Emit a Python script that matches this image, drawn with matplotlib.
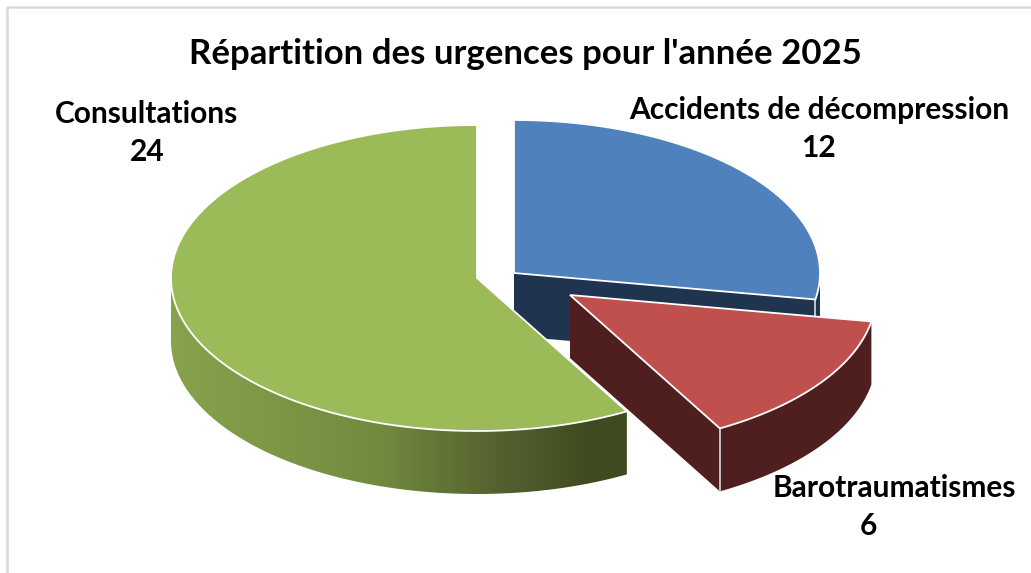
"""
Pie chart in the "3D exploded" office style, drawn with flat patches
in pixel coordinates (y axis pointing down).
"""

import numpy as np
import matplotlib
matplotlib.use("Agg")
import matplotlib.pyplot as plt
from matplotlib.colors import LinearSegmentedColormap
from matplotlib.patches import Polygon

plt.rcParams["font.family"] = ["Lato", "DejaVu Sans"]

title = "Répartition des urgences pour l'année 2025"
categories = ["Accidents de décompression", "Barotraumatismes", "Consultations"]
values = [12, 6, 24]

# ── Layout / styles ─────────────────────────────────────────────────────────
W, H = 1031, 573
RX, RY, DEPTH = 306, 153, 63
centers = [(514, 273), (570, 295), (477, 278)]
top_colors = ["#4f81bd", "#c0504d", "#9bbb59"]
side_colors = ["#1f344f", "#4f1f1f", None]
name_pos = [(819, 110), (894, 488), (147, 114)]
value_pos = [(818, 148), (868, 526), (147, 152)]
draw_order = [0, 2, 1]
green_ramp = LinearSegmentedColormap.from_list(
    "rim",
    [(0, "#87a34c"), (0.46, "#728a3f"), (0.7, "#566430"), (0.92, "#404a20"), (1, "#404a20")],
)


def view_angle(deg):
    """Slice angle as seen with the slight perspective of the 3D view."""
    return deg - 3.7 * np.sin(np.radians(deg / 2))


def arc(center, a, b, drop=0):
    """Points on the ellipse between angles a and b (clockwise from top)."""
    t = np.radians(np.linspace(a, b, 120))
    x = center[0] + RX * np.sin(t)
    y = center[1] - RY * np.cos(t) + drop
    return np.column_stack([x, y])


fig = plt.figure(figsize=(W / 100, H / 100), dpi=100)
ax = fig.add_axes([0, 0, 1, 1])
ax.axis("off")

edges = np.concatenate([[0], np.cumsum(values)]) / sum(values) * 360

for i in draw_order:
    c = centers[i]
    a, b = view_angle(edges[i]), view_angle(edges[i + 1])

    # Cut wall, only seen when it faces the viewer
    if 0 < b < 180:
        p = arc(c, b, b)[0]
        wall = [c, p, (p[0], p[1] + DEPTH), (c[0], c[1] + DEPTH)]
        ax.add_patch(Polygon(wall, fc=side_colors[i], ec="none", zorder=i * 3 + 1))

    # Outer rim: front half of the ellipse only
    lo, hi = max(a, 90), min(b, 270)
    rim = np.vstack([arc(c, lo, hi), arc(c, hi, lo, DEPTH)])
    if side_colors[i] is not None:
        ax.add_patch(Polygon(rim, fc=side_colors[i], ec="none", zorder=i * 3 + 1))
    else:
        clip = Polygon(rim, fc="none", ec="none", transform=ax.transData)
        ax.add_patch(clip)
        x0, x1 = rim[:, 0].min(), rim[:, 0].max()
        y0, y1 = rim[:, 1].min(), rim[:, 1].max()
        img = ax.imshow(
            np.linspace(0, 1, 256)[None, :], cmap=green_ramp, aspect="auto",
            extent=(x0, x1, y1, y0), zorder=i * 3 + 1,
        )
        img.set_clip_path(clip)

    # Separators on the visible rim and wall corners
    if 0 < b < 180:
        p = arc(c, b, b)[0]
        ax.plot([p[0], p[0]], [p[1], p[1] + DEPTH], color="#d8d8d8", lw=1.2,
                zorder=i * 3 + 2)

    # Top face
    face = np.vstack([[c], arc(c, a, b)])
    ax.add_patch(Polygon(face, fc=top_colors[i], ec="white", lw=1.3,
                         joinstyle="miter", zorder=i * 3 + 2))

    # The value is not always centred under the name in the reference
    ax.text(*name_pos[i], categories[i], ha="center", va="center", fontsize=21.5,
            fontweight="bold", color="black", zorder=20)
    ax.text(*value_pos[i], str(values[i]), ha="center", va="center", fontsize=21.5,
            fontweight="bold", color="black", zorder=20)

ax.text(525.5, 54, title, ha="center", va="center", fontsize=25,
        fontweight="bold", color="black", zorder=20)

# Chart frame: only the top and left edges fall inside the picture
ax.plot([7, 7, W], [H, 7, 7], color="#d9d9d9", lw=1.8, zorder=0)

ax.set_xlim(0, W)
ax.set_ylim(H, 0)

fig.savefig("out.png", dpi=100, facecolor="white")
